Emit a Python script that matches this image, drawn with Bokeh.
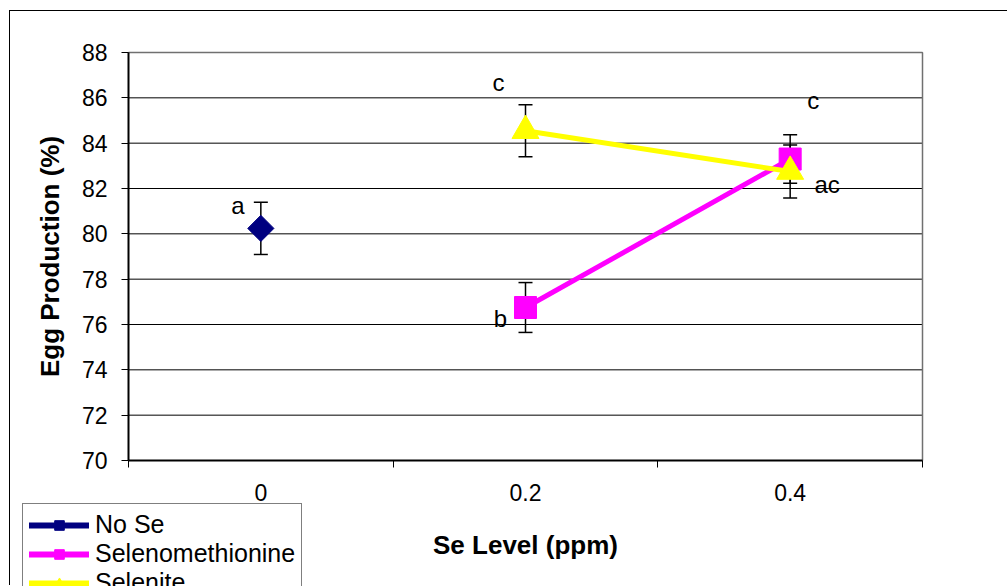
import math
from bokeh.plotting import figure
from bokeh.models import FixedTicker, Legend, LegendItem, ColumnDataSource, Range1d
from bokeh.core.properties import value
from bokeh.embed import file_html
from bokeh.resources import INLINE

# ---- data ----
levels = ["0", "0.2", "0.4"]
yticks = [70, 72, 74, 76, 78, 80, 82, 84, 86, 88]

nose_x = [0]
nose_y = [80.24]
nose_err = [1.15]

semet_x = [1, 2]
semet_y = [76.75, 83.3]
semet_err = [1.1, 1.07]

selenite_x = [1, 2]
selenite_y = [84.55, 82.75]
selenite_err = [1.15, 1.17]

ann_text = ["a", "c", "b", "c", "ac"]
ann_x = [0, 1, 1, 2, 2]
ann_y = [80.24, 84.55, 76.75, 83.3, 82.75]
ann_dx = [-23, -27, -25, 23, 37]
ann_dy = [-23, -48, 11, -59, 13]

FONT = "Liberation Sans"
NAVY, MAG, YEL = "#000080", "#FF00FF", "#FFFF00"

# plot-area bounds (category edges / value limits)
XB = (-0.5, 2.5)
YB = (70, 88)

# canvas 998x575; plot area at canvas x 118..912, y 41..449
W, H = 998, 575
PL, PR, PT, PB = 118, 912, 41, 449
xs_per_px = (XB[1] - XB[0]) / (PR - PL)
ys_per_px = (YB[1] - YB[0]) / (PB - PT)
x_range = (XB[0] - PL * xs_per_px, XB[1] + (W - PR) * xs_per_px)
y_range = (YB[0] - (H - PB) * ys_per_px, YB[1] + PT * ys_per_px)

p = figure(width=W, height=H, output_backend="svg", toolbar_location=None,
           x_range=x_range, y_range=y_range,
           min_border_left=0, min_border_right=0, min_border_top=0, min_border_bottom=0,
           background_fill_color="white", border_fill_color="white")
p.margin = (10, 0, 0, 9)
p.styles = {"border-top": "1px solid black", "border-left": "1px solid black"}
p.outline_line_color = None
p.grid.visible = False
# off-screen range used only by the legend key renderers
p.extra_y_ranges = {"key": Range1d(1000, 1001)}

# horizontal gridlines at y ticks across the plot area
p.segment(x0=[XB[0]] * len(yticks), y0=yticks, x1=[XB[1]] * len(yticks), y1=yticks,
          line_color="black", line_width=1)
# plot-area outline: top and right
p.segment(x0=[XB[0], XB[1]], y0=[YB[1], YB[0]], x1=[XB[1], XB[1]], y1=[YB[1], YB[1]],
          line_color="#707070", line_width=1.5)

# y axis
yax = p.yaxis[0]
yax.fixed_location = XB[0]
yax.bounds = YB
yax.ticker = FixedTicker(ticks=yticks)
yax.axis_line_color = "black"
yax.axis_line_width = 2
yax.major_tick_out = 7
yax.major_tick_in = 0
yax.minor_tick_line_color = None
yax.major_label_standoff = 14
yax.major_label_text_font = FONT
yax.major_label_text_font_size = "23px"
yax.major_label_text_color = "black"
yax.axis_label = "Egg Production (%)"
yax.axis_label_text_font = FONT
yax.axis_label_text_font_size = "26px"
yax.axis_label_text_font_style = "bold"
yax.axis_label_text_color = "black"
yax.axis_label_standoff = 14

# x axis
xax = p.xaxis[0]
xax.fixed_location = YB[0]
xax.bounds = XB
xax.ticker = FixedTicker(ticks=[0, 1, 2], minor_ticks=[-0.5, 0.5, 1.5, 2.5])
xax.major_label_overrides = {i: lab for i, lab in enumerate(levels)}
xax.axis_line_color = "black"
xax.axis_line_width = 2
xax.major_tick_out = 0
xax.major_tick_in = 0
xax.minor_tick_out = 7
xax.minor_tick_in = 0
xax.minor_tick_line_color = "black"
xax.major_label_standoff = 16
xax.major_label_text_font = FONT
xax.major_label_text_font_size = "23px"
xax.major_label_text_color = "black"
xax.axis_label = "Se Level (ppm)"
xax.axis_label_text_font = FONT
xax.axis_label_text_font_size = "26px"
xax.axis_label_text_font_style = "bold"
xax.axis_label_text_color = "black"
xax.axis_label_standoff = 26


def errbars(xs, ys, es):
    lo = [y - e for y, e in zip(ys, es)]
    hi = [y + e for y, e in zip(ys, es)]
    p.segment(x0=xs, y0=lo, x1=xs, y1=hi, line_color="black", line_width=1.5)
    p.scatter(x=xs + xs, y=lo + hi, marker="dash", size=14, line_color="black", line_width=1.5)


errbars(nose_x, nose_y, nose_err)
errbars(semet_x, semet_y, semet_err)
errbars(selenite_x, selenite_y, selenite_err)

DIAMOND = dict(marker="square", angle=math.pi / 4)

p.scatter(nose_x, nose_y, size=18.5, fill_color=NAVY, line_color=NAVY, **DIAMOND)
p.line(semet_x, semet_y, line_color=MAG, line_width=5)
p.scatter(semet_x, semet_y, marker="square", size=22, fill_color=MAG, line_color=MAG)
p.line(selenite_x, selenite_y, line_color=YEL, line_width=5)
p.scatter(selenite_x, selenite_y, marker="triangle", size=27, fill_color=YEL, line_color=YEL)

src = ColumnDataSource(dict(x=ann_x, y=ann_y, t=ann_text, dx=ann_dx, dy=ann_dy))
p.text(x="x", y="y", text="t", x_offset="dx", y_offset="dy", source=src,
       text_align="center", text_baseline="middle", text_font=value(FONT),
       text_font_size="24px", text_color="black")


# legend keys: same series drawn on an off-screen range, only seen in the legend
def key(xs, ys, color, size, **mk):
    lr = p.line(xs, ys, y_range_name="key", line_color=color, line_width=6, line_cap="round")
    mr = p.scatter(xs, ys, y_range_name="key", size=size, fill_color=color, line_color=color, **mk)
    return [lr, mr]


legend = Legend(items=[LegendItem(label="No Se", renderers=key(nose_x, nose_y, NAVY, 13, **DIAMOND)),
                       LegendItem(label="Selenomethionine",
                                  renderers=key(semet_x, semet_y, MAG, 15, marker="square")),
                       LegendItem(label="Selenite",
                                  renderers=key(selenite_x, selenite_y, YEL, 20, marker="triangle"))],
                location=(12, -18))
legend.glyph_width = 60
legend.glyph_height = 24
legend.label_height = 24
legend.spacing = 0
legend.padding = 6
legend.margin = 0
legend.label_standoff = 6
legend.label_text_font = FONT
legend.label_text_font_size = "25px"
legend.label_text_line_height = 0.9
legend.label_text_color = "black"
legend.border_line_color = "black"
legend.border_line_width = 1
legend.background_fill_color = "white"
legend.background_fill_alpha = 1
p.add_layout(legend, "center")

open("out.html", "w").write(file_html(p, INLINE))
